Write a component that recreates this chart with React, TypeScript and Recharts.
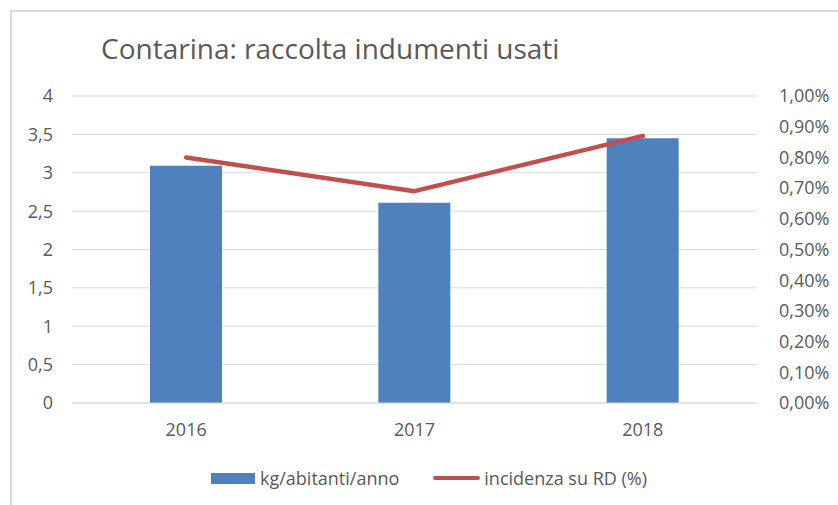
import React from 'react';
import { ComposedChart, Bar, Line, XAxis, YAxis, CartesianGrid, Legend } from 'recharts';

const years = ['2016', '2017', '2018'];
const kgPerInhabitant = [3.09, 2.61, 3.45];
const incidencePct = [0.8, 0.69, 0.87];
const leftTicks = [0, 0.5, 1, 1.5, 2, 2.5, 3, 3.5, 4];
const rightTicks = [0, 0.1, 0.2, 0.3, 0.4, 0.5, 0.6, 0.7, 0.8, 0.9, 1.0];
const seriesNames = ['kg/abitanti/anno', 'incidenza su RD (%)'];
const title = 'Contarina: raccolta indumenti usati';

const data = years.map((y, i) => ({ year: y, kg: kgPerInhabitant[i], pct: incidencePct[i] }));

const FONT = '"Open Sans", sans-serif';
const TXT = '#595959';
const BLUE = '#4f81bd';
const RED = '#c0504d';

const fmtLeft = (v: number) => String(v).replace('.', ',');
const fmtRight = (v: number) => v.toFixed(2).replace('.', ',') + '%';

const LegendContent = () => (
  <div style={{ display: 'flex', alignItems: 'center', fontFamily: FONT, fontSize: 18, color: TXT, whiteSpace: 'nowrap' }}>
    <span style={{ display: 'inline-block', width: 44, height: 11, background: BLUE, marginRight: 5 }} />
    <span>{seriesNames[0]}</span>
    <span style={{ display: 'inline-block', width: 47, height: 4, background: RED, borderRadius: 2, marginLeft: 34, marginRight: 4 }} />
    <span>{seriesNames[1]}</span>
  </div>
);

export default function App() {
  return (
    <div style={{ position: 'absolute', left: 0, top: 0, width: 838, height: 505, overflow: 'hidden', background: '#fff' }}>
      <div style={{ position: 'absolute', left: 10, top: 10, width: 900, height: 600, border: '2px solid #d9d9d9', boxSizing: 'border-box' }} />
      <div style={{ position: 'absolute', left: 101, top: 34, fontFamily: FONT, fontSize: 28, lineHeight: 1, color: TXT, whiteSpace: 'nowrap' }}>
        {title}
      </div>
      <div style={{ position: 'absolute', left: 0, top: 0 }}>
        <ComposedChart
          width={838}
          height={505}
          data={data}
          margin={{ top: 96, left: 12, right: 11, bottom: 62 }}
        >
          <CartesianGrid vertical={false} stroke="#d9d9d9" yAxisId="left" />
          <XAxis
            dataKey="year"
            height={40}
            tickLine={false}
            axisLine={{ stroke: '#d9d9d9' }}
            tickSize={6}
            tickMargin={14}
            tick={{ fill: TXT, fontFamily: FONT, fontSize: 18 }}
          />
          <YAxis
            yAxisId="left"
            orientation="left"
            width={60}
            domain={[0, 4]}
            ticks={leftTicks}
            interval={0}
            tickFormatter={fmtLeft}
            axisLine={false}
            tickLine={false}
            tickSize={6}
            tickMargin={13}
            tick={{ fill: TXT, fontFamily: FONT, fontSize: 18 }}
          />
          <YAxis
            yAxisId="right"
            orientation="right"
            width={70}
            domain={[0, 1]}
            ticks={rightTicks}
            interval={0}
            tickFormatter={fmtRight}
            axisLine={false}
            tickLine={false}
            tickSize={6}
            tickMargin={16}
            tick={{ fill: TXT, fontFamily: FONT, fontSize: 18, textAnchor: 'start' }}
          />
          <Legend
            layout="horizontal"
            verticalAlign="middle"
            align="center"
            wrapperStyle={{ left: 211, top: 466, width: 'auto' }}
            content={<LegendContent />}
          />
          <Bar yAxisId="left" dataKey="kg" name={seriesNames[0]} fill={BLUE} barSize={72} isAnimationActive={false} />
          <Line
            yAxisId="right"
            dataKey="pct"
            name={seriesNames[1]}
            stroke={RED}
            strokeWidth={4.5}
            strokeLinecap="round"
            strokeLinejoin="round"
            dot={false}
            activeDot={false}
            isAnimationActive={false}
          />
        </ComposedChart>
      </div>
    </div>
  );
}
